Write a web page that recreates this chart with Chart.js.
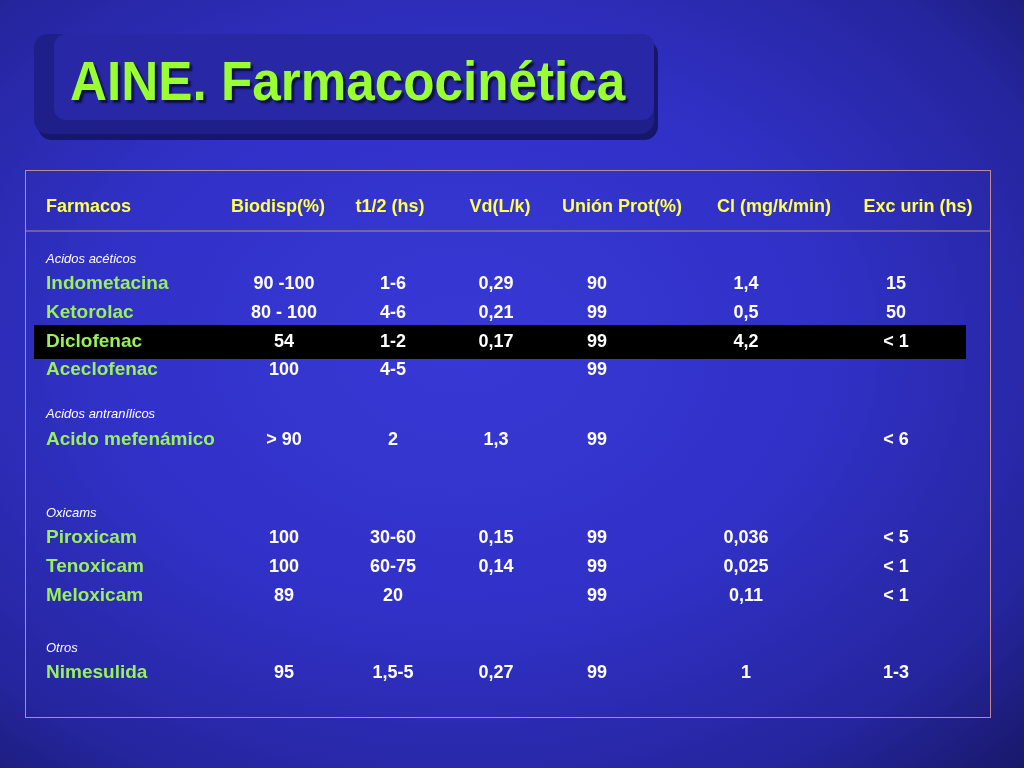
<!DOCTYPE html>
<html>
<head>
<meta charset="utf-8">
<script src="https://cdn.jsdelivr.net/npm/chart.js@4"></script>
<style>
  html, body { margin: 0; padding: 0; }
  body {
    width: 1024px; height: 768px; overflow: hidden; position: relative;
    background: radial-gradient(ellipse at 45% 45%, #3838d6 0%, #3131c8 45%, #25259e 80%, #18186a 100%);
    font-family: "Liberation Sans", Arial, sans-serif;
  }
  .titlebox {
    position: absolute; left: 34px; top: 34px; width: 620px; height: 100px;
    background: #1f1f8a; border-radius: 14px;
    box-shadow: 4px 6px 0 #16166a;
  }
  .titlebox .inner {
    position: absolute; left: 20px; top: 0; right: 0; bottom: 14px;
    background: #2828a6; border-radius: 12px;
  }
  .title {
    position: absolute; left: 70px; top: 48px; margin: 0;
    font: bold 56px "Liberation Sans", Arial, sans-serif; color: #99ff33;
    text-shadow: 3px 3px 2px #101040;
    transform: scaleX(0.915); transform-origin: left top;
  }
  .table {
    position: absolute; left: 25px; top: 170px; width: 964px; height: 546px;
    border: 1px solid #c08890;
  }
  canvas { position: absolute; left: 0; top: 0; }
</style>
</head>
<body>
<div class="titlebox"><div class="inner"></div></div>
<h1 class="title">AINE. Farmacocinética</h1>
<div class="table"><canvas id="c" width="964" height="546"></canvas></div>
<script>
// Table contents
const headers = ['Farmacos', 'Biodisp(%)', 't1/2 (hs)', 'Vd(L/k)', 'Unión Prot(%)', 'Cl (mg/k/min)', 'Exc urin (hs)'];
const groups = ['Acidos acéticos', 'Acidos antranílicos', 'Oxicams', 'Otros'];
const drugs = [
  ['Indometacina', 0], ['Ketorolac', 0], ['Diclofenac', 0], ['Aceclofenac', 0],
  ['Acido mefenámico', 1],
  ['Piroxicam', 2], ['Tenoxicam', 2], ['Meloxicam', 2],
  ['Nimesulida', 3]
];
const biodisp = ['90 -100', '80 - 100', '54', '100', '> 90', '100', '100', '89', '95'];
const halfLife = ['1-6', '4-6', '1-2', '4-5', '2', '30-60', '60-75', '20', '1,5-5'];
const vd = ['0,29', '0,21', '0,17', '', '1,3', '0,15', '0,14', '', '0,27'];
const protein = ['90', '99', '99', '99', '99', '99', '99', '99', '99'];
const clearance = ['1,4', '0,5', '4,2', '', '', '0,036', '0,025', '0,11', '1'];
const urinary = ['15', '50', '< 1', '', '< 6', '< 5', '< 1', '< 1', '1-3'];
const highlighted = 'Diclofenac';

// layout (pixels inside the table box)
const headerX = [20, 252, 364, 474, 596, 748, 892];
const colX = [20, 258, 367, 470, 571, 720, 870];
const groupY = [88, 243, 342, 477];
const drugY = [113, 142, 171, 199, 269, 367, 396, 425, 502];

const cols = [biodisp, halfLife, vd, protein, clearance, urinary];
const points = [];
headers.forEach((h, i) => points.push({ x: headerX[i], y: 36, text: h, kind: 'header', align: i ? 'center' : 'left' }));
groups.forEach((g, i) => points.push({ x: colX[0], y: groupY[i], text: g, kind: 'group', align: 'left' }));
drugs.forEach(([name], r) => {
  points.push({ x: colX[0], y: drugY[r], text: name, kind: 'name', align: 'left' });
  cols.forEach((c, j) => points.push({ x: colX[j + 1], y: drugY[r], text: c[r], kind: 'value', align: 'center' }));
});

const fonts = {
  header: 'bold 18px "Liberation Sans", Arial, sans-serif',
  group: 'italic 13px "Liberation Sans", Arial, sans-serif',
  name: 'bold 19px "Liberation Sans", Arial, sans-serif',
  value: 'bold 18px "Liberation Sans", Arial, sans-serif'
};
const colors = { header: '#ffff55', group: '#ffffff', name: '#99f05a', value: '#ffffff' };

const cellText = {
  id: 'cellText',
  beforeDatasetsDraw(chart) {
    const { ctx, scales: { x, y } } = chart;
    ctx.save();
    // header rule
    ctx.strokeStyle = '#c08890';
    ctx.lineWidth = 1;
    ctx.beginPath();
    ctx.moveTo(x.getPixelForValue(0), y.getPixelForValue(60));
    ctx.lineTo(x.getPixelForValue(964), y.getPixelForValue(60));
    ctx.stroke();
    // highlighted row bar
    const hr = drugY[drugs.findIndex(d => d[0] === highlighted)];
    ctx.fillStyle = '#000000';
    const top = y.getPixelForValue(hr - 17), bot = y.getPixelForValue(hr + 17);
    ctx.fillRect(x.getPixelForValue(8), top, x.getPixelForValue(940) - x.getPixelForValue(8), bot - top);
    ctx.restore();
  },
  afterDatasetsDraw(chart) {
    const { ctx, scales: { x, y } } = chart;
    ctx.save();
    ctx.textBaseline = 'middle';
    chart.data.datasets[0].data.forEach(p => {
      if (!p.text) return;
      ctx.font = fonts[p.kind];
      ctx.fillStyle = colors[p.kind];
      ctx.textAlign = p.align;
      ctx.fillText(p.text, x.getPixelForValue(p.x), y.getPixelForValue(p.y));
    });
    ctx.restore();
  }
};

new Chart(document.getElementById('c').getContext('2d'), {
  type: 'scatter',
  data: { datasets: [{ data: points, pointRadius: 0 }] },
  options: {
    responsive: false,
    animation: false,
    layout: { padding: 0 },
    plugins: { legend: { display: false }, tooltip: { enabled: false } },
    scales: {
      x: { type: 'linear', min: 0, max: 964, display: false },
      y: { type: 'linear', min: 0, max: 546, reverse: true, display: false }
    }
  },
  plugins: [cellText]
});
</script>
</body>
</html>
